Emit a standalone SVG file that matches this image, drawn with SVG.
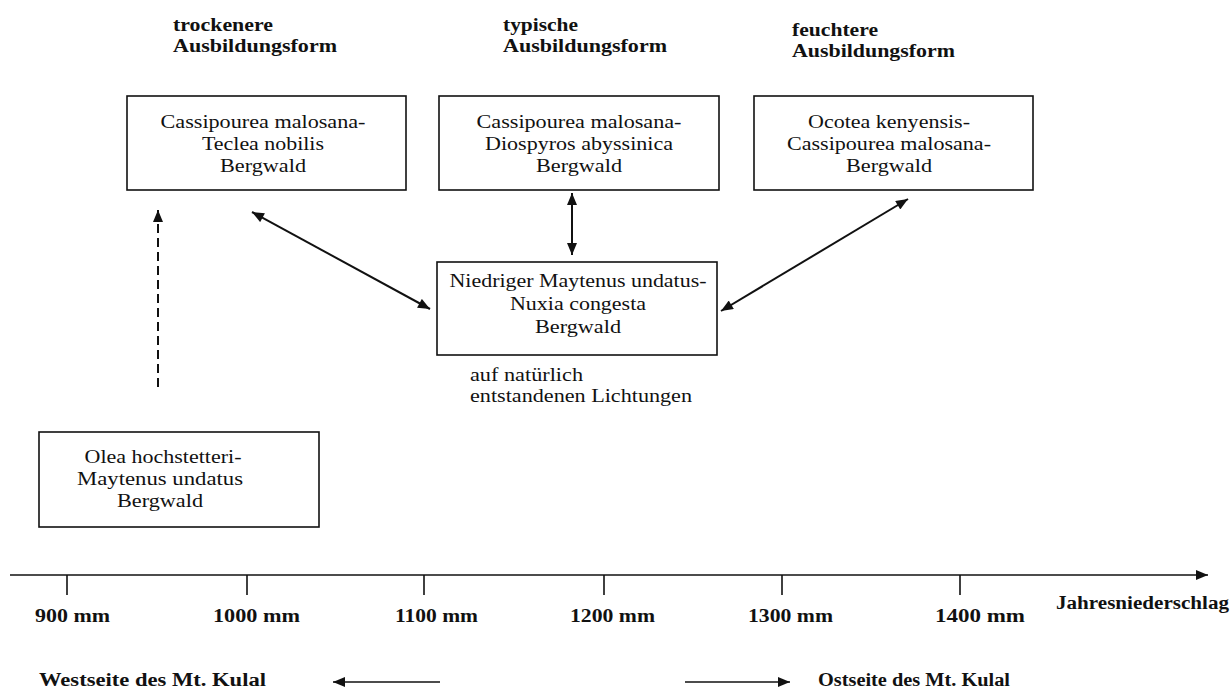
<svg xmlns="http://www.w3.org/2000/svg" width="1232" height="688" viewBox="0 0 1232 688">
<style>
.box{fill:#fff;stroke:#111;stroke-width:1.6}
.t{font-family:"Liberation Serif","Times New Roman",serif;font-size:19.5px;fill:#111;text-anchor:middle}
.r{font-family:"Liberation Serif","Times New Roman",serif;font-size:18.5px;fill:#111}
.b{font-family:"Liberation Serif","Times New Roman",serif;font-size:18.5px;font-weight:bold;fill:#111}
.ln{stroke:#111;stroke-width:2;fill:none}
.dash{stroke-dasharray:9 5}
.ax{stroke:#111;stroke-width:1.6;fill:none}
</style>
<defs>
<marker id="ah" viewBox="0 0 12 10" refX="12" refY="5" markerWidth="13" markerHeight="10" markerUnits="userSpaceOnUse" orient="auto-start-reverse">
<path d="M0,0 L12,5 L0,10 Z" fill="#111"/>
</marker>
</defs>
<rect width="1232" height="688" fill="#fff"/>

<g id="header-trocken">
<text class="b" x="173" y="31" textLength="100" lengthAdjust="spacingAndGlyphs">trockenere</text>
<text class="b" x="173" y="52" textLength="164" lengthAdjust="spacingAndGlyphs">Ausbildungsform</text>
</g>
<g id="header-typisch">
<text class="b" x="503" y="31" textLength="75" lengthAdjust="spacingAndGlyphs">typische</text>
<text class="b" x="503" y="52" textLength="164" lengthAdjust="spacingAndGlyphs">Ausbildungsform</text>
</g>
<g id="header-feucht">
<text class="b" x="792" y="36" textLength="86" lengthAdjust="spacingAndGlyphs">feuchtere</text>
<text class="b" x="792" y="57" textLength="163" lengthAdjust="spacingAndGlyphs">Ausbildungsform</text>
</g>

<g id="node-teclea">
<rect class="box" x="127" y="96" width="279" height="94"/>
<text class="t" x="263" y="128" textLength="205" lengthAdjust="spacingAndGlyphs">Cassipourea malosana-</text>
<text class="t" x="263" y="150" textLength="122" lengthAdjust="spacingAndGlyphs">Teclea nobilis</text>
<text class="t" x="263" y="172" textLength="86" lengthAdjust="spacingAndGlyphs">Bergwald</text>
</g>
<g id="node-diospyros">
<rect class="box" x="439" y="96" width="280" height="94"/>
<text class="t" x="579" y="128" textLength="205" lengthAdjust="spacingAndGlyphs">Cassipourea malosana-</text>
<text class="t" x="579" y="150" textLength="188" lengthAdjust="spacingAndGlyphs">Diospyros abyssinica</text>
<text class="t" x="579" y="172" textLength="86" lengthAdjust="spacingAndGlyphs">Bergwald</text>
</g>
<g id="node-ocotea">
<rect class="box" x="754" y="96" width="279" height="94"/>
<text class="t" x="889" y="128" textLength="162" lengthAdjust="spacingAndGlyphs">Ocotea kenyensis-</text>
<text class="t" x="889" y="150" textLength="204" lengthAdjust="spacingAndGlyphs">Cassipourea malosana-</text>
<text class="t" x="889" y="172" textLength="86" lengthAdjust="spacingAndGlyphs">Bergwald</text>
</g>
<g id="node-nuxia">
<rect class="box" x="437" y="262" width="280" height="93"/>
<text class="t" x="578" y="287" textLength="257" lengthAdjust="spacingAndGlyphs">Niedriger Maytenus undatus-</text>
<text class="t" x="578" y="310" textLength="136" lengthAdjust="spacingAndGlyphs">Nuxia congesta</text>
<text class="t" x="578" y="333" textLength="86" lengthAdjust="spacingAndGlyphs">Bergwald</text>
</g>
<g id="note-lichtungen">
<text class="r" x="470" y="381" textLength="113" lengthAdjust="spacingAndGlyphs">auf natürlich</text>
<text class="r" x="470" y="402" textLength="222" lengthAdjust="spacingAndGlyphs">entstandenen Lichtungen</text>
</g>
<g id="node-olea">
<rect class="box" x="39" y="432" width="280" height="95"/>
<text class="t" x="163" y="463" textLength="157" lengthAdjust="spacingAndGlyphs">Olea hochstetteri-</text>
<text class="t" x="160" y="485" textLength="166" lengthAdjust="spacingAndGlyphs">Maytenus undatus</text>
<text class="t" x="160" y="507" textLength="86" lengthAdjust="spacingAndGlyphs">Bergwald</text>
</g>

<g id="connectors">
<line class="ln dash" x1="158" y1="387" x2="158" y2="210" marker-end="url(#ah)"/>
<line class="ln" x1="252" y1="212" x2="430" y2="309" marker-start="url(#ah)" marker-end="url(#ah)"/>
<line class="ln" x1="572" y1="193" x2="572" y2="255" marker-start="url(#ah)" marker-end="url(#ah)"/>
<line class="ln" x1="908" y1="199" x2="721" y2="311" marker-start="url(#ah)" marker-end="url(#ah)"/>
<line class="ax" x1="440" y1="682" x2="333" y2="682" marker-end="url(#ah)"/>
<line class="ax" x1="685" y1="682" x2="790" y2="682" marker-end="url(#ah)"/>
</g>

<g id="axis">
<line class="ax" x1="10" y1="575" x2="1208" y2="575" marker-end="url(#ah)"/>
<line class="ax" x1="67" y1="575" x2="67" y2="595"/>
<line class="ax" x1="247" y1="575" x2="247" y2="595"/>
<line class="ax" x1="424" y1="575" x2="424" y2="595"/>
<line class="ax" x1="604" y1="575" x2="604" y2="595"/>
<line class="ax" x1="782" y1="575" x2="782" y2="595"/>
<line class="ax" x1="960" y1="575" x2="960" y2="595"/>
<text class="b" x="35" y="622" textLength="75" lengthAdjust="spacingAndGlyphs">900 mm</text>
<text class="b" x="213" y="622" textLength="87" lengthAdjust="spacingAndGlyphs">1000 mm</text>
<text class="b" x="395" y="622" textLength="83" lengthAdjust="spacingAndGlyphs">1100 mm</text>
<text class="b" x="570" y="622" textLength="85" lengthAdjust="spacingAndGlyphs">1200 mm</text>
<text class="b" x="748" y="622" textLength="85" lengthAdjust="spacingAndGlyphs">1300 mm</text>
<text class="b" x="935" y="622" textLength="90" lengthAdjust="spacingAndGlyphs">1400 mm</text>
<text class="b" x="1056" y="609" textLength="173" lengthAdjust="spacingAndGlyphs">Jahresniederschlag</text>
</g>

<g id="sides">
<text class="b" x="39" y="686" textLength="227" lengthAdjust="spacingAndGlyphs">Westseite des Mt. Kulal</text>
<text class="b" x="818" y="686" textLength="192" lengthAdjust="spacingAndGlyphs">Ostseite des Mt. Kulal</text>
</g>
</svg>
